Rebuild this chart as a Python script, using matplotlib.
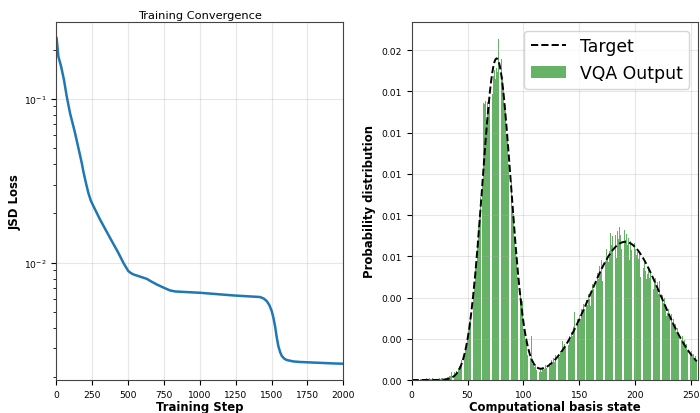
import matplotlib
matplotlib.use("Agg")
import matplotlib.pyplot as plt
from matplotlib.ticker import MultipleLocator, FormatStrFormatter
import numpy as np

# Training loss curve
steps = [2, 14, 33, 53, 72, 95, 130, 177, 188, 205, 223, 240, 258, 304, 374,
         432, 467, 485, 502, 520, 537, 580, 630, 660, 699, 740, 792, 830,
         1001, 1233, 1419, 1445, 1466, 1485, 1501, 1513, 1524, 1536, 1547,
         1560, 1571, 1588, 1605, 1650, 1698, 1930, 2000]
loss = [0.235, 0.182, 0.158, 0.131, 0.104, 0.0822, 0.0621, 0.0407, 0.0362,
        0.0310, 0.0267, 0.0240, 0.0222, 0.0184, 0.0142, 0.0115, 0.0100,
        0.0094, 0.00889, 0.00865, 0.00849, 0.00825, 0.00798, 0.00770,
        0.00738, 0.00710, 0.00678, 0.00668, 0.00656, 0.00632, 0.00618,
        0.00605, 0.00584, 0.00550, 0.00507, 0.00460, 0.00411, 0.00350,
        0.00310, 0.00284, 0.00270, 0.00260, 0.00255, 0.00250, 0.00248,
        0.00243, 0.00242]

# Target distribution over 256 basis states, units of 1e-4
target_e4 = [
    0, 0, 0, 0, 0, 0, 0, 0, 0, 0,
    0, 0, 0, 0, 0, 0, 0, 0, 0, 0,
    0, 0.02, 0.02, 0.03, 0.04, 0.06, 0.08, 0.10, 0.14, 0.18,
    0.25, 0.32, 0.42, 0.55, 0.72, 0.92, 1.18, 1.50, 1.90, 2.39,
    2.99, 3.71, 4.58, 5.62, 6.85, 8.31, 10.01, 11.99, 14.26, 16.87,
    19.83, 23.17, 26.90, 31.05, 35.62, 40.61, 46.03, 51.84, 58.04, 64.58,
    71.43, 78.51, 85.78, 93.14, 100.53, 107.84, 114.97, 121.83, 128.32, 134.33,
    139.77, 144.54, 148.57, 151.77, 154.11, 155.52, 156.00, 155.64, 154.24, 151.92,
    148.73, 144.72, 139.97, 134.56, 128.57, 122.11, 115.28, 108.18, 100.91, 93.56,
    86.24, 79.02, 71.99, 65.20, 58.72, 52.58, 46.85, 41.51, 36.60, 32.13,
    28.08, 24.45, 21.23, 18.40, 15.92, 13.80, 11.98, 10.45, 9.17, 8.13,
    7.30, 6.65, 6.17, 5.83, 5.61, 5.49, 5.48, 5.54, 5.69, 5.88,
    6.14, 6.44, 6.80, 7.19, 7.62, 8.09, 8.59, 9.13, 9.69, 10.28,
    10.91, 11.57, 12.25, 12.97, 13.71, 14.49, 15.30, 16.13, 17.00, 17.89,
    18.81, 19.77, 20.75, 21.75, 22.78, 23.84, 24.93, 26.03, 27.16, 28.31,
    29.49, 30.67, 31.88, 33.10, 34.34, 35.58, 36.84, 38.10, 39.37, 40.64,
    41.91, 43.17, 44.44, 45.69, 46.93, 48.16, 49.38, 50.57, 51.75, 52.90,
    54.02, 55.11, 56.17, 57.20, 58.18, 59.13, 60.03, 60.89, 61.69, 62.45,
    63.16, 63.81, 64.40, 64.94, 65.42, 65.83, 66.19, 66.48, 66.71, 66.87,
    66.97, 67.00, 66.97, 66.87, 66.71, 66.48, 66.19, 65.83, 65.42, 64.94,
    64.40, 63.81, 63.16, 62.45, 61.69, 60.89, 60.03, 59.13, 58.18, 57.20,
    56.17, 55.11, 54.02, 52.90, 51.75, 50.57, 49.38, 48.16, 46.93, 45.69,
    44.44, 43.17, 41.91, 40.64, 39.37, 38.10, 36.84, 35.58, 34.34, 33.10,
    31.88, 30.67, 29.49, 28.31, 27.16, 26.03, 24.93, 23.84, 22.78, 21.75,
    20.75, 19.77, 18.81, 17.89, 17.00, 16.13, 15.30, 14.49, 13.71, 12.96,
    12.24, 11.55, 10.89, 10.25, 9.65, 9.07,
]

# VQA output histogram, units of 1e-4
vqa_e4 = [
    0.2, 0.0, 0.4, 0.1, 0.3, 0.6, 0.2, 0.0, 0.5, 0.3,
    0.7, 0.2, 0.4, 0.9, 0.3, 0.5, 1.0, 0.4, 0.6, 0.8,
    0.3, 0.5, 0.7, 0.4, 0.6, 0.9, 0.5, 0.8, 1.1, 0.7,
    1.2, 0.9, 1.5, 1.3, 2.1, 1.8, 4.0, 2.6, 3.9, 3.1,
    4.4, 3.8, 5.9, 6.6, 7.4, 9.8, 11.2, 12.6, 16.1, 17.3,
    21.4, 24.2, 28.8, 30.1, 37.5, 41.9, 45.2, 54.6, 57.3, 66.8,
    74.9, 79.2, 88.6, 97.4, 134.5, 133.8, 135.1, 126.3, 134.7, 131.2,
    136.4, 146.8, 138.5, 147.2, 150.3, 146.0, 151.4, 149.6, 165.4, 152.1,
    155.8, 147.3, 141.9, 132.6, 130.4, 118.7, 117.2, 104.9, 99.3, 95.8,
    82.1, 80.4, 69.7, 63.5, 60.2, 49.8, 44.1, 42.7, 39.2, 38.4,
    24.9, 23.6, 18.7, 20.4, 12.3, 14.8, 10.9, 21.5, 7.6, 9.4,
    6.2, 7.8, 4.9, 6.6, 3.8, 5.2, 4.1, 6.3, 4.7, 5.4,
    7.2, 5.9, 6.1, 8.4, 6.8, 9.7, 8.0, 10.6, 8.9, 11.9,
    10.2, 12.8, 11.0, 14.2, 12.9, 19.1, 14.8, 17.6, 15.9, 19.4,
    17.2, 21.3, 19.6, 23.1, 21.4, 25.9, 32.8, 24.7, 29.5, 27.3,
    31.6, 29.8, 34.2, 31.5, 37.1, 34.6, 38.9, 36.2, 41.7, 39.3,
    36.0, 42.1, 46.8, 44.3, 49.2, 47.5, 52.1, 48.9, 55.4, 53.0,
    58.3, 48.2, 61.2, 57.9, 63.5, 59.8, 57.0, 62.7, 71.3, 65.4,
    69.8, 64.6, 70.2, 59.4, 72.1, 68.3, 74.4, 70.5, 63.5, 69.2,
    72.6, 67.8, 70.9, 65.3, 68.7, 58.2, 67.4, 62.9, 65.8, 66.3,
    63.7, 60.5, 62.2, 58.6, 61.0, 50.1, 58.9, 54.2, 57.3, 52.8,
    49.0, 51.4, 53.9, 49.7, 52.3, 47.6, 44.3, 48.8, 49.5, 44.2,
    47.6, 41.8, 47.9, 39.7, 41.2, 37.4, 39.8, 35.1, 31.0, 32.7,
    34.5, 30.2, 31.8, 27.9, 29.6, 25.8, 27.1, 23.4, 25.2, 21.6,
    22.9, 19.4, 21.1, 17.8, 19.3, 16.2, 17.5, 14.1, 15.9, 12.8,
    14.2, 11.6, 12.7, 10.3, 11.4, 9.6,
]

states = np.arange(len(target_e4))
target = np.array(target_e4) * 1e-4
vqa = np.array(vqa_e4) * 1e-4

fig = plt.figure(figsize=(7.0, 4.14), dpi=100)

# left: loss curve
ax1 = fig.add_axes([0.0805, 0.0797, 0.410, 0.865])
ax1.plot(steps, loss, color="#1f77b4", lw=1.8)
ax1.set_yscale("log")
ax1.set_xlim(0, 2000)
ax1.xaxis.set_major_locator(MultipleLocator(250))
ax1.set_title("Training Convergence", fontsize=8.2, pad=3)
ax1.set_xlabel("Training Step", fontsize=8.4, fontweight="bold", labelpad=1)
ax1.set_ylabel("JSD Loss", fontsize=8.4, fontweight="bold", labelpad=2)
ax1.grid(True, alpha=0.3)
ax1.tick_params(labelsize=6.6)

# right: distributions
ax2 = fig.add_axes([0.588, 0.0797, 0.409, 0.865])
ax2.bar(states, vqa, width=0.8, color="green", alpha=0.6, label="VQA Output")
ax2.plot(states, target, "k--", lw=1.4, label="Target")
ax2.set_xlim(0, 256)
ax2.xaxis.set_major_locator(MultipleLocator(50))
ax2.yaxis.set_major_locator(MultipleLocator(0.002))
ax2.yaxis.set_major_formatter(FormatStrFormatter("%.2f"))
ax2.set_xlabel("Computational basis state", fontsize=8.4, fontweight="bold", labelpad=1)
ax2.set_ylabel("Probability distribution", fontsize=8.4, fontweight="bold")
ax2.grid(True, alpha=0.3)
ax2.tick_params(labelsize=6.6)
ax2.legend(loc="upper right", fontsize=12.4)

for ax in (ax1, ax2):
    for s in ax.spines.values():
        s.set_color("#444444")

fig.savefig("out.png", dpi=100)
